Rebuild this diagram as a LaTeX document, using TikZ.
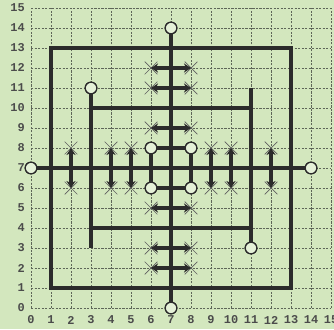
\documentclass[tikz,border=0pt]{standalone}
\usepackage{fontspec}
\setmonofont{Liberation Mono}
\usetikzlibrary{arrows.meta,shapes.misc}
\definecolor{bg}{HTML}{D3E7BE}
\definecolor{ink}{HTML}{2B2B2B}
\definecolor{gridc}{HTML}{5E6658}
\tikzset{
  gridline/.style={gridc, line width=0.5pt, dash pattern=on 1.6pt off 0.9pt},
  bar/.style={ink, line width=2.9pt},
  ring/.style={circle, draw=ink, line width=0.9pt, fill=bg!60!white, minimum size=0.29cm, inner sep=0pt},
  xmark/.style={cross out, draw=ink!75, line width=0.5pt, minimum size=0.3cm, inner sep=0pt},
  dbl/.style={bar, {Stealth[length=5pt,width=6.5pt]}-{Stealth[length=5pt,width=6.5pt]}},
  lab/.style={font=\ttfamily\bfseries\fontsize{8.5}{9}\selectfont, text=ink!85, inner sep=0pt}
}
\begin{document}
\begin{tikzpicture}[x=0.5cm,y=0.5cm]
\fill[bg] (-1.55,-1.05) rectangle (15.15,15.4);
\useasboundingbox (-1.55,-1.05) rectangle (15.15,15.4);
% grid
\foreach \i in {0,...,15} {
  \draw[gridline] (\i,0) -- (\i,15);
  \draw[gridline] (0,\i) -- (15,\i);
  \node[lab, anchor=east] (yl\i) at (-0.3,\i) {\i};
  \node[lab] (xl\i) at (\i,-0.6) {\i};
}
% named points
\coordinate (sq1) at (1,1);
\coordinate (sq2) at (13,1);
\coordinate (sq3) at (13,13);
\coordinate (sq4) at (1,13);
\coordinate (p33) at (3,3);
\coordinate (p310) at (3,10);
\coordinate (p1110) at (11,10);
\coordinate (p1111) at (11,11);
\coordinate (p34) at (3,4);
\coordinate (p114) at (11,4);
% big square
\draw[bar, line join=miter] (sq1) -- (sq2) -- (sq3) -- (sq4) -- cycle;
% circles
\node[ring] (ct) at (7,14) {};
\node[ring] (cb) at (7,0) {};
\node[ring] (cl) at (0,7) {};
\node[ring] (cr) at (14,7) {};
\node[ring] (c311) at (3,11) {};
\node[ring] (c113) at (11,3) {};
\node[ring] (c68) at (6,8) {};
\node[ring] (c88) at (8,8) {};
\node[ring] (c66) at (6,6) {};
\node[ring] (c86) at (8,6) {};
% axes
\draw[bar] (cl) -- (cr);
\draw[bar] (cb) -- (ct);
% inner shapes
\draw[bar] (c311) -- (p33);
\draw[bar] (p310) -- (p1110);
\draw[bar] (p1111) -- (c113);
\draw[bar] (p34) -- (p114);
\draw[bar] (c68) -- (c88);
\draw[bar] (c66) -- (c86);
\draw[bar] (c68) -- (c66);
\draw[bar] (c88) -- (c86);
% horizontal double arrows
\foreach \y in {12,11,9,5,3,2} {
  \node[xmark] (hl\y) at (6,\y) {};
  \node[xmark] (hr\y) at (8,\y) {};
  \draw[dbl] (hl\y.center) -- (hr\y.center);
}
% vertical double arrows
\foreach \x in {2,4,5,9,10,12} {
  \node[xmark] (vt\x) at (\x,8) {};
  \node[xmark] (vb\x) at (\x,6) {};
  \draw[dbl] (vt\x.center) -- (vb\x.center);
}
% redraw circles on top
\foreach \p in {(7,14),(7,0),(0,7),(14,7),(3,11),(11,3),(6,8),(8,8),(6,6),(8,6)} {
  \node[ring] at \p {};
}
\end{tikzpicture}
\end{document}
